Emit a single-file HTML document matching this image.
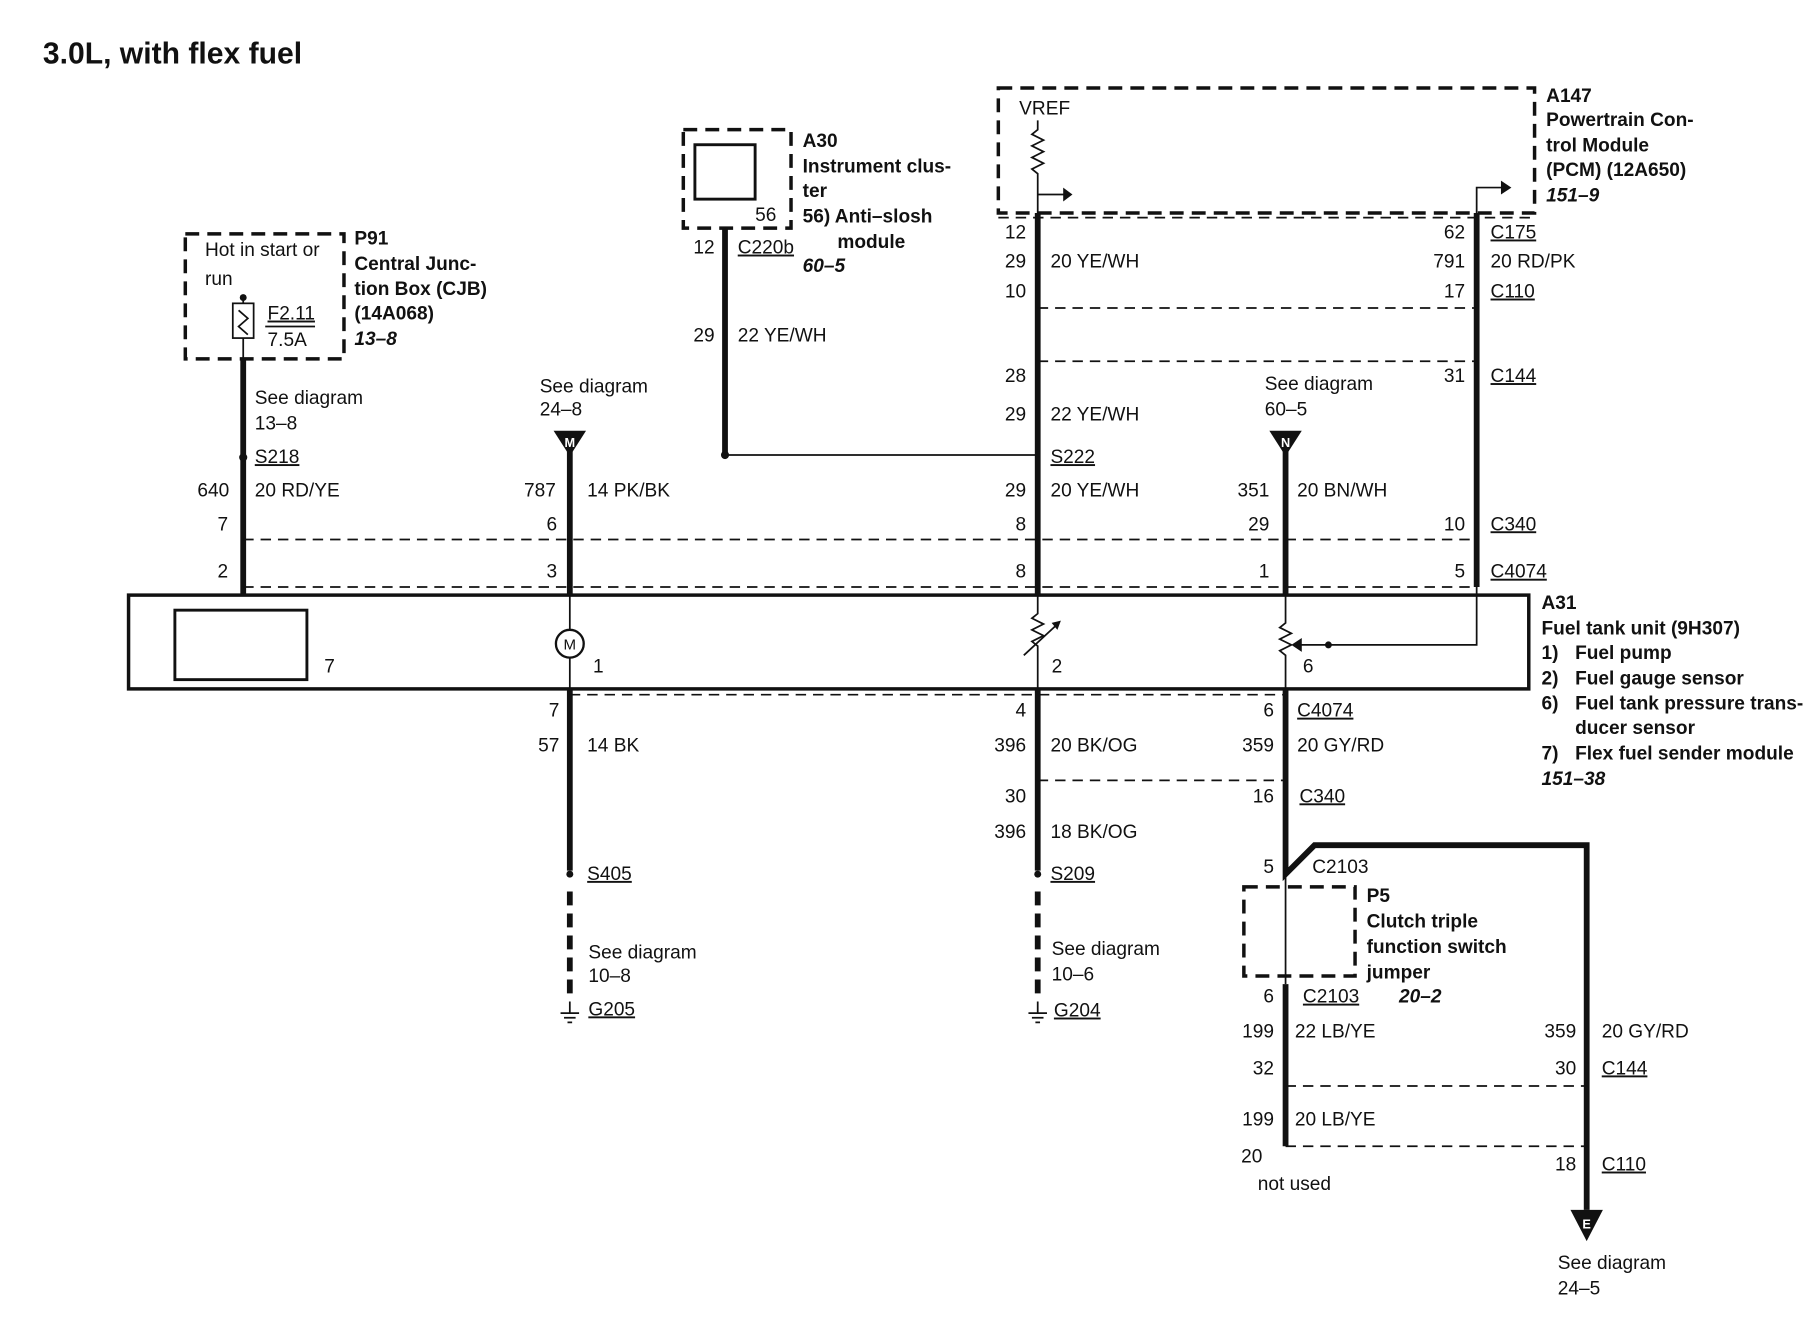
<!DOCTYPE html>
<html><head><meta charset="utf-8"><style>
html,body{margin:0;padding:0;background:#fff;}
svg{display:block;}
text{font-family:"Liberation Sans",sans-serif;font-size:16.5px;fill:#111;}
.b{font-weight:bold;}
.i{font-weight:bold;font-style:italic;}
.e{text-anchor:end;}
.w{stroke:#111;stroke-width:5;fill:none;}
.t{stroke:#111;stroke-width:1.5;fill:none;}
.d{stroke:#111;stroke-width:1.5;fill:none;stroke-dasharray:9,6;}
.db{stroke:#111;stroke-width:3;fill:none;stroke-dasharray:12,7;}
.u{text-decoration:underline;}
</style></head><body>
<svg width="1816" height="1328" viewBox="0 0 1568 1147" preserveAspectRatio="none">
<text x="37" y="55" class="b" style="font-size:26px">3.0L, with flex fuel</text>

<!-- P91 -->
<rect x="160" y="202" width="137" height="108" class="db"/>
<text x="177" y="221">Hot in start or</text><text x="177" y="246">run</text>
<circle cx="210" cy="257" r="3" fill="#111"/>
<rect x="201" y="262" width="18" height="30" class="t"/>
<path d="M210 257 V262 M210 292 V310 M206 268 l8 7 l-8 7 l8 7" class="t"/>
<text x="231" y="276" class="u">F2.11</text><text x="231" y="299">7.5A</text>
<line x1="229" y1="282" x2="272" y2="282" class="t"/>
<text x="306" y="211" class="b">P91</text><text x="306" y="233" class="b">Central Junc-</text>
<text x="306" y="255" class="b">tion Box (CJB)</text><text x="306" y="276" class="b">(14A068)</text>
<text x="306" y="298" class="i">13–8</text>

<line x1="210" y1="310" x2="210" y2="515" class="w"/>
<circle cx="210" cy="395" r="3.5" fill="#111"/>
<text x="220" y="349">See diagram</text><text x="220" y="371">13–8</text>
<text x="220" y="400" class="u">S218</text>
<text x="198" y="429" class="e">640</text><text x="220" y="429">20 RD/YE</text>
<text x="197" y="458" class="e">7</text><text x="197" y="499" class="e">2</text>

<line x1="210" y1="466" x2="1275" y2="466" class="d"/>
<line x1="210" y1="507" x2="1275" y2="507" class="d"/>

<!-- A31 -->
<rect x="111" y="514" width="1209" height="81" fill="none" stroke="#111" stroke-width="3"/>
<rect x="151" y="527" width="114" height="60" fill="none" stroke="#111" stroke-width="2.5"/>
<text x="280" y="581">7</text>

<!-- x=492 -->
<text x="466" y="339">See diagram</text><text x="466" y="359">24–8</text>
<polygon points="478,372 506,372 492,394" fill="#111"/>
<text x="492" y="386" style="font-size:11px;fill:#fff;text-anchor:middle" class="b">M</text>
<line x1="492" y1="390" x2="492" y2="515" class="w"/>
<text x="480" y="429" class="e">787</text><text x="507" y="429">14 PK/BK</text>
<text x="481" y="458" class="e">6</text><text x="481" y="499" class="e">3</text>
<line x1="492" y1="514" x2="492" y2="595" class="t"/>
<circle cx="492" cy="556" r="12" fill="#fff" stroke="#111" stroke-width="2"/>
<text x="492" y="561" style="text-anchor:middle;font-size:13px">M</text>
<text x="512" y="581">1</text>
<line x1="492" y1="595" x2="492" y2="752" class="w"/>
<line x1="492" y1="770" x2="492" y2="865" class="db" style="stroke-width:5"/>
<circle cx="492" cy="755" r="3" fill="#111"/>
<text x="483" y="619" class="e">7</text><text x="483" y="649" class="e">57</text><text x="507" y="649">14 BK</text>
<text x="507" y="760" class="u">S405</text>
<text x="508" y="828">See diagram</text><text x="508" y="848">10–8</text>
<path d="M492 865 V875 M484 875 H500 M487 879 H497 M490 883 H494" class="t"/>
<text x="508" y="877" class="u">G205</text>

<line x1="492" y1="600" x2="1110" y2="600" class="d"/>

<!-- A30 -->
<rect x="590" y="112" width="93" height="85" class="db"/>
<rect x="600" y="125" width="52" height="47" fill="none" stroke="#111" stroke-width="2.5"/>
<text x="652" y="191">56</text>
<text x="693" y="127" class="b">A30</text><text x="693" y="149" class="b">Instrument clus-</text>
<text x="693" y="170" class="b">ter</text><text x="693" y="192" class="b">56)  Anti–slosh</text>
<text x="723" y="214" class="b">module</text><text x="693" y="235" class="i">60–5</text>
<line x1="626" y1="197" x2="626" y2="393" class="w"/>
<text x="617" y="219" class="e">12</text><text x="637" y="219" class="u">C220b</text>
<text x="617" y="295" class="e">29</text><text x="637" y="295">22 YE/WH</text>
<circle cx="626" cy="393" r="3.5" fill="#111"/>
<line x1="626" y1="393" x2="896" y2="393" class="t"/>

<!-- A147 -->
<rect x="862" y="76" width="463" height="108" class="db"/>
<text x="880" y="99">VREF</text>
<path d="M896 104 V112 l-5 4 l10 5 l-10 5 l10 5 l-10 5 l10 5 l-10 5 l5 4 V184" class="t"/>
<path d="M896 168 H920" class="t"/><polygon points="918,162 926,168 918,174" fill="#111"/>
<path d="M1275 184 V162 H1298" class="t"/><polygon points="1296,156 1305,162 1296,168" fill="#111"/>
<text x="1335" y="88" class="b">A147</text><text x="1335" y="109" class="b">Powertrain Con-</text>
<text x="1335" y="131" class="b">trol Module</text><text x="1335" y="152" class="b">(PCM) (12A650)</text>
<text x="1335" y="174" class="i">151–9</text>
<line x1="862" y1="188" x2="1325" y2="188" class="d"/>

<!-- x=896 -->
<line x1="896" y1="184" x2="896" y2="515" class="w"/>
<line x1="896" y1="266" x2="1275" y2="266" class="d"/>
<line x1="896" y1="312" x2="1275" y2="312" class="d"/>
<text x="886" y="206" class="e">12</text><text x="886" y="231" class="e">29</text><text x="907" y="231">20 YE/WH</text>
<text x="886" y="257" class="e">10</text><text x="886" y="330" class="e">28</text>
<text x="886" y="363" class="e">29</text><text x="907" y="363">22 YE/WH</text>
<text x="907" y="400" class="u">S222</text>
<text x="886" y="429" class="e">29</text><text x="907" y="429">20 YE/WH</text>
<text x="886" y="458" class="e">8</text><text x="886" y="499" class="e">8</text>
<path d="M896 514 V530 l-5 4 l10 5 l-10 5 l10 5 l-10 5 l5 4 V595" class="t"/>
<path d="M884 566 L912 540" class="t"/><polygon points="908,538 916,536 913,544" fill="#111"/>
<text x="908" y="581">2</text>
<line x1="896" y1="595" x2="896" y2="752" class="w"/>
<line x1="896" y1="770" x2="896" y2="865" class="db" style="stroke-width:5"/>
<circle cx="896" cy="755" r="3" fill="#111"/>
<text x="886" y="619" class="e">4</text><text x="886" y="649" class="e">396</text><text x="907" y="649">20 BK/OG</text>
<line x1="896" y1="674" x2="1110" y2="674" class="d"/>
<text x="886" y="693" class="e">30</text><text x="886" y="724" class="e">396</text><text x="907" y="724">18 BK/OG</text>
<text x="907" y="760" class="u">S209</text>
<text x="908" y="825">See diagram</text><text x="908" y="847">10–6</text>
<path d="M896 865 V875 M888 875 H904 M891 879 H901 M894 883 H898" class="t"/>
<text x="910" y="878" class="u">G204</text>

<!-- x=1275 -->
<line x1="1275" y1="184" x2="1275" y2="507" class="w"/>
<text x="1265" y="206" class="e">62</text><text x="1287" y="206" class="u">C175</text>
<text x="1265" y="231" class="e">791</text><text x="1287" y="231">20 RD/PK</text>
<text x="1265" y="257" class="e">17</text><text x="1287" y="257" class="u">C110</text>
<text x="1265" y="330" class="e">31</text><text x="1287" y="330" class="u">C144</text>
<text x="1265" y="458" class="e">10</text><text x="1287" y="458" class="u">C340</text>
<text x="1265" y="499" class="e">5</text><text x="1287" y="499" class="u">C4074</text>
<path d="M1275 507 V557 H1122" class="t"/>
<polygon points="1124,551 1115,557 1124,563" fill="#111"/>
<circle cx="1147" cy="557" r="3" fill="#111"/>

<!-- x=1110 -->
<text x="1092" y="337">See diagram</text><text x="1092" y="359">60–5</text>
<polygon points="1096,372 1124,372 1110,394" fill="#111"/>
<text x="1110" y="386" style="font-size:11px;fill:#fff;text-anchor:middle" class="b">N</text>
<line x1="1110" y1="390" x2="1110" y2="515" class="w"/>
<text x="1096" y="429" class="e">351</text><text x="1120" y="429">20 BN/WH</text>
<text x="1096" y="458" class="e">29</text><text x="1096" y="499" class="e">1</text>
<path d="M1110 514 V538 l-5 4 l10 5 l-10 5 l10 5 l-10 5 l5 4 V595" class="t"/>
<text x="1125" y="581">6</text>
<path d="M1110 595 V755 L1135 730 H1370 V1045" class="w"/>
<polygon points="1356,1045 1384,1045 1370,1072" fill="#111"/>
<text x="1370" y="1061" style="font-size:11px;fill:#fff;text-anchor:middle" class="b">E</text>
<text x="1100" y="619" class="e">6</text><text x="1120" y="619" class="u">C4074</text>
<text x="1100" y="649" class="e">359</text><text x="1120" y="649">20 GY/RD</text>
<text x="1100" y="693" class="e">16</text><text x="1122" y="693" class="u">C340</text>
<text x="1100" y="754" class="e">5</text><text x="1133" y="754">C2103</text>
<rect x="1074" y="766" width="96" height="77" class="db"/>
<line x1="1110" y1="755" x2="1110" y2="850" class="t"/>
<text x="1180" y="779" class="b">P5</text><text x="1180" y="801" class="b">Clutch triple</text>
<text x="1180" y="823" class="b">function switch</text><text x="1180" y="845" class="b">jumper</text>
<text x="1100" y="866" class="e">6</text><text x="1125" y="866" class="u">C2103</text><text x="1208" y="866" class="i">20–2</text>
<line x1="1110" y1="850" x2="1110" y2="990" class="w"/>
<text x="1100" y="896" class="e">199</text><text x="1118" y="896">22 LB/YE</text>
<text x="1100" y="928" class="e">32</text>
<line x1="1110" y1="938" x2="1370" y2="938" class="d"/>
<text x="1100" y="972" class="e">199</text><text x="1118" y="972">20 LB/YE</text>
<line x1="1110" y1="990" x2="1370" y2="990" class="d"/>
<text x="1090" y="1004" class="e">20</text><text x="1086" y="1028">not used</text>
<text x="1361" y="896" class="e">359</text><text x="1383" y="896">20 GY/RD</text>
<text x="1361" y="928" class="e">30</text><text x="1383" y="928" class="u">C144</text>
<text x="1361" y="1011" class="e">18</text><text x="1383" y="1011" class="u">C110</text>
<text x="1345" y="1096">See diagram</text><text x="1345" y="1118">24–5</text>

<!-- A31 labels -->
<text x="1331" y="526" class="b">A31</text><text x="1331" y="548" class="b">Fuel tank unit (9H307)</text>
<text x="1331" y="569" class="b">1)</text><text x="1360" y="569" class="b">Fuel pump</text>
<text x="1331" y="591" class="b">2)</text><text x="1360" y="591" class="b">Fuel gauge sensor</text>
<text x="1331" y="613" class="b">6)</text><text x="1360" y="613" class="b">Fuel tank pressure trans-</text>
<text x="1360" y="634" class="b">ducer sensor</text>
<text x="1331" y="656" class="b">7)</text><text x="1360" y="656" class="b">Flex fuel sender module</text>
<text x="1331" y="678" class="i">151–38</text>
</svg>
</body></html>
